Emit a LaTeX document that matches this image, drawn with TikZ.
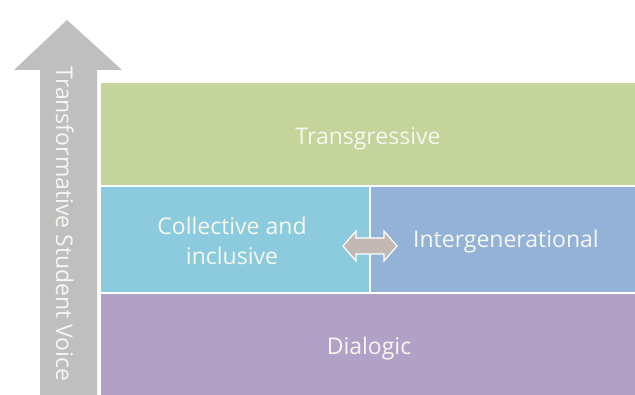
\documentclass[tikz,border=0pt]{standalone}
\usepackage{fontspec}
\setmainfont{Open Sans}
\definecolor{cgreen}{RGB}{196,212,155}
\definecolor{cteal}{RGB}{140,203,222}
\definecolor{cblue}{RGB}{148,178,215}
\definecolor{cpurple}{RGB}{177,161,199}
\definecolor{cgray}{RGB}{191,191,191}
\definecolor{cdbl}{RGB}{196,184,180}
\definecolor{ctext}{RGB}{246,248,240}
\tikzset{
  band/.style={draw=white, line width=2.5pt, inner sep=0pt},
  lbl/.style={text=ctext, font=\fontsize{23}{30}\selectfont, inner sep=0pt},
}
\begin{document}
\begin{tikzpicture}[x=1pt,y=-1pt]
\useasboundingbox (0,0) rectangle (635,395);
\fill[white] (0,0) rectangle (635,395);
% vertical arrow
\fill[cgray] (67,20) -- (122,70) -- (97,70) -- (97,400) -- (40,400) -- (40,70) -- (14,70) -- cycle;
\node[lbl, rotate=-90, anchor=base] (axis) at (56,224) {Transformative Student Voice};
% bands
\filldraw[band, fill=cgreen] (100,82) rectangle (640,186);
\filldraw[band, fill=cteal] (100,186) rectangle (370,293);
\filldraw[band, fill=cblue] (370,186) rectangle (640,293);
\filldraw[band, fill=cpurple] (100,293) rectangle (640,400);
\node[lbl, anchor=base] (tr) at (368,145) {Transgressive};
\node[lbl, anchor=base] (ci1) at (232,235) {Collective and};
\node[lbl, anchor=base] (ci2) at (232,265) {inclusive};
\node[lbl, anchor=base west] (ig) at (413,248) {Intergenerational};
\node[lbl, anchor=base] (di) at (369,355) {Dialogic};
% double arrow
\filldraw[fill=cdbl, draw=white, line width=1.2pt, line join=miter]
  (343,246) -- (356,231) -- (356,238) -- (384,238) -- (384,231) -- (397,246)
  -- (384,261) -- (384,254) -- (356,254) -- (356,261) -- cycle;
\end{tikzpicture}
\end{document}
